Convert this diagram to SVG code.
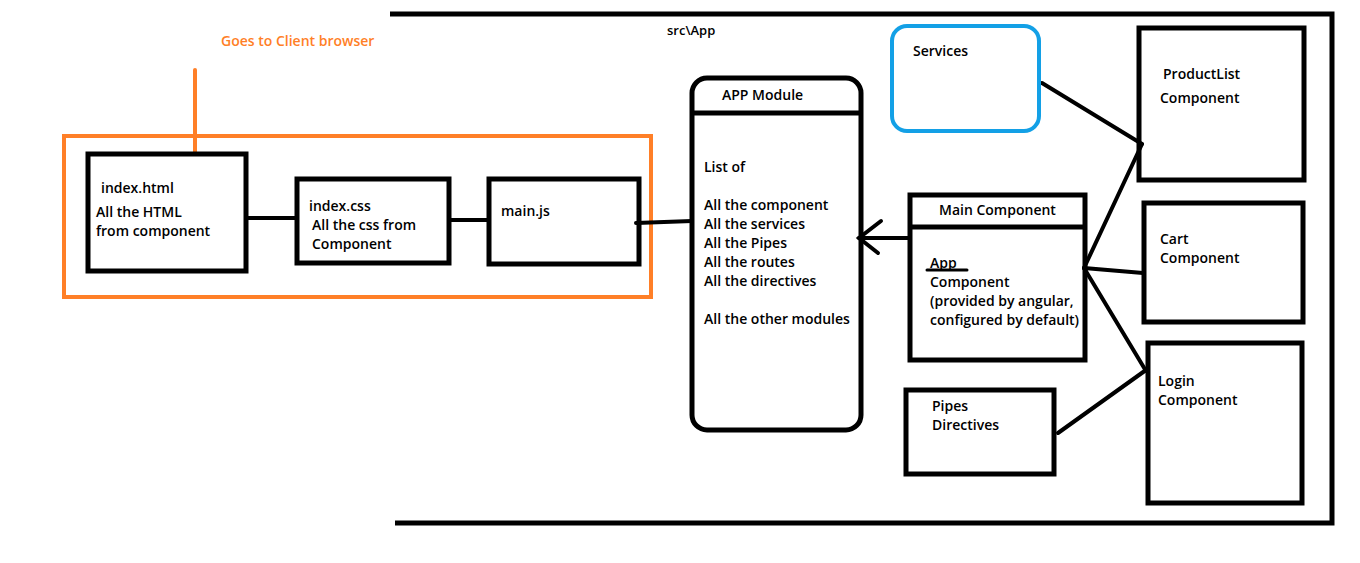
<svg xmlns="http://www.w3.org/2000/svg" width="1360" height="563" viewBox="0 0 1360 563">
<style>
.t{font-family:"Open Sans","Liberation Sans",sans-serif;font-size:14px;font-weight:600;fill:#000}
.o{fill:#ff7f27}
.box{fill:none;stroke:#000;stroke-width:5}
.ln{fill:none;stroke:#000;stroke-width:4;stroke-linecap:round}
</style>
<rect width="1360" height="563" fill="#fff"/>
<g id="frame">
<polyline points="390,14 1332,14 1332,523 395,523" fill="none" stroke="#000" stroke-width="5"/>
<text class="t" x="667" y="35" style="font-size:13px">src\App</text>
</g>
<g id="client">
<rect x="64" y="136" width="587" height="161" fill="none" stroke="#ff7f27" stroke-width="4"/>
<line x1="195" y1="70" x2="195" y2="153" stroke="#ff7f27" stroke-width="4" stroke-linecap="round"/>
<text class="t o" x="221" y="46">Goes to Client browser</text>
</g>
<g id="connectors">
<line class="ln" x1="246" y1="218" x2="296" y2="218"/>
<line class="ln" x1="449" y1="220" x2="488" y2="220"/>
<line class="ln" x1="636" y1="223" x2="692" y2="221"/>
<line class="ln" x1="859" y1="238" x2="908" y2="238"/>
<polyline class="ln" points="881,221 859,238 878,253"/>
<line class="ln" x1="1042" y1="83" x2="1142" y2="144"/>
<line class="ln" x1="1084" y1="268" x2="1142" y2="144"/>
<line class="ln" x1="1084" y1="268" x2="1143" y2="273"/>
<line class="ln" x1="1084" y1="268" x2="1146" y2="371"/>
<line class="ln" x1="1058" y1="433" x2="1146" y2="370"/>
</g>
<g id="index-html">
<rect class="box" x="88" y="154" width="158" height="117"/>
<text class="t" x="101" y="193">index.html</text>
<text class="t" x="96" y="217">All the HTML</text>
<text class="t" x="96" y="236">from component</text>
</g>
<g id="index-css">
<rect class="box" x="297" y="179" width="152" height="84"/>
<text class="t" x="309" y="211">index.css</text>
<text class="t" x="312" y="230">All the css from</text>
<text class="t" x="312" y="249">Component</text>
</g>
<g id="main-js">
<rect class="box" x="489" y="179" width="150" height="85"/>
<text class="t" x="501" y="216">main.js</text>
</g>
<g id="app-module">
<rect class="box" x="692" y="78" width="169" height="352" rx="15"/>
<line class="box" x1="692" y1="113" x2="861" y2="113"/>
<text class="t" x="722" y="100">APP Module</text>
<text class="t" x="704" y="172">List of</text>
<text class="t" x="704" y="210">All the component</text>
<text class="t" x="704" y="229">All the services</text>
<text class="t" x="704" y="248">All the Pipes</text>
<text class="t" x="704" y="267">All the routes</text>
<text class="t" x="704" y="286">All the directives</text>
<text class="t" x="704" y="324">All the other modules</text>
</g>
<g id="services">
<rect x="892" y="26" width="147" height="105" rx="15" fill="none" stroke="#13a0e6" stroke-width="4"/>
<text class="t" x="913" y="56">Services</text>
</g>
<g id="main-component">
<rect class="box" x="910" y="195" width="175" height="165"/>
<line class="box" x1="910" y1="227" x2="1085" y2="227"/>
<text class="t" x="939" y="215">Main Component</text>
<text class="t" x="930" y="268">App</text>
<line x1="927" y1="270" x2="967" y2="270" stroke="#000" stroke-width="3" stroke-linecap="round"/>
<text class="t" x="930" y="287">Component</text>
<text class="t" x="930" y="306">(provided by angular,</text>
<text class="t" x="930" y="325">configured by default)</text>
</g>
<g id="pipes">
<rect class="box" x="906" y="390" width="148" height="84"/>
<text class="t" x="932" y="411">Pipes</text>
<text class="t" x="932" y="430">Directives</text>
</g>
<g id="productlist">
<rect class="box" x="1139" y="28" width="165" height="152"/>
<text class="t" x="1163" y="79">ProductList</text>
<text class="t" x="1160" y="103">Component</text>
</g>
<g id="cart">
<rect class="box" x="1144" y="203" width="159" height="119"/>
<text class="t" x="1160" y="244">Cart</text>
<text class="t" x="1160" y="263">Component</text>
</g>
<g id="login">
<rect class="box" x="1148" y="343" width="154" height="160"/>
<text class="t" x="1158" y="386">Login</text>
<text class="t" x="1158" y="405">Component</text>
</g>
</svg>
